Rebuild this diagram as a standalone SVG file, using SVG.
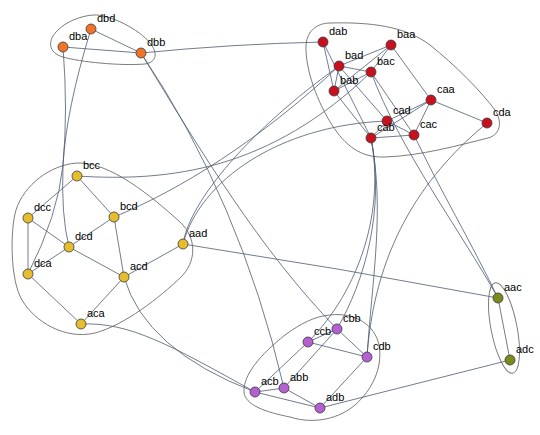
<svg xmlns="http://www.w3.org/2000/svg" width="540" height="435" viewBox="0 0 540 435">
<style>
.e{fill:none;stroke:#4f5d72;stroke-width:0.9;stroke-opacity:0.9}
.h{fill:none;stroke:#7c7c7c;stroke-width:1}
.n{stroke:#3a3a3a;stroke-width:0.8}
.o{fill:#f07328}.r{fill:#c8101e}.y{fill:#e6bd2c}.p{fill:#b45fd2}.g{fill:#7b8a1c}
text{font-family:"Liberation Sans",Arial,sans-serif;font-size:11px;fill:#000}
</style>
<rect width="540" height="435" fill="#fff"/>
<g id="hulls">
<path class="h" d="M93,15 C110,14 140,30 150,43 C158,53 157,62 145,64 C120,66 80,62 63,57 C48,53 47,40 58,30 C66,22 80,16 93,15 Z"/>
<path class="h" d="M330,23 C370,22 405,26 430,45 C455,65 480,90 495,110 C503,122 500,135 488,138 C460,145 420,156 385,157 C360,158 345,145 332,125 C318,103 305,70 306,45 C307,30 318,23 330,23 Z"/>
<path class="h" d="M77,163 C110,162 150,195 180,222 C197,238 197,262 180,278 C160,297 125,325 95,333 C65,340 35,322 22,300 C10,280 10,230 16,210 C24,185 50,165 77,163 Z"/>
<path class="h" d="M330,315 C355,312 375,325 379,345 C383,368 372,390 355,405 C340,418 315,425 290,417 C265,412 245,405 244,392 C243,375 260,355 285,335 C300,324 315,316 330,315 Z"/>
<ellipse class="h" cx="504" cy="328" rx="13" ry="46" transform="rotate(-11 504 328)"/>
</g>
<g id="edges">
<path class="e" d="M63,47L141,53M91,29L141,53"/>
<path class="e" d="M323,42L334,91M323,42L371,138M391,45L431,100M391,45L334,91M391,45L371,72M391,45L339,66M334,91L371,138M334,91L371,72M334,91L339,66M371,72L414,135M371,72L339,66M339,66L387,121M431,100L487,123M431,100L371,138M431,100L414,135M431,100L387,121M371,138L414,135M371,138L387,121M414,135L387,121"/>
<path class="e" d="M77,176L28,218M77,176L114,217M28,218L28,274M28,218L69,247M114,217L124,277M114,217L69,247M69,247L124,277M69,247L28,274M28,274L81,324M124,277L81,324M124,277L183,244"/>
<path class="e" d="M255,392L284,388M255,392L320,408M284,388L320,408M255,392L308,342M284,388L337,329M320,408L367,357M308,342L337,329M308,342L367,357M337,329L367,357"/>
<path class="e" d="M498,298L510,360"/>
<path class="e" d="M141,53Q232,44 323,42"/>
<path class="e" d="M141,53Q240,200 284,388"/>
<path class="e" d="M141,53C200,150 260,250 337,329"/>
<path class="e" d="M91,29Q66,110 63,165Q61,215 69,247"/>
<path class="e" d="M63,47Q68,110 63,165Q58,215 28,274"/>
<path class="e" d="M77,176C170,182 270,170 371,72"/>
<path class="e" d="M114,217C180,190 260,140 339,66"/>
<path class="e" d="M183,244C190,200 250,130 339,66"/>
<path class="e" d="M183,244C200,180 280,125 387,121"/>
<path class="e" d="M183,244Q340,268 498,298"/>
<path class="e" d="M124,277Q145,350 255,392"/>
<path class="e" d="M81,324C130,322 170,345 255,392"/>
<path class="e" d="M371,138C385,210 372,280 367,357"/>
<path class="e" d="M371,138C385,210 365,280 337,329"/>
<path class="e" d="M371,138C385,210 360,290 308,342"/>
<path class="e" d="M487,123C430,170 375,240 367,357"/>
<path class="e" d="M371,72C400,150 460,230 498,298"/>
<path class="e" d="M414,135C440,190 470,240 498,298"/>
<path class="e" d="M320,408L510,360"/>
</g>
<g id="dbd"><circle class="n o" cx="91" cy="29" r="5"/><text x="97" y="22">dbd</text></g>
<g id="dba"><circle class="n o" cx="63" cy="47" r="5"/><text x="69" y="40">dba</text></g>
<g id="dbb"><circle class="n o" cx="141" cy="53" r="5"/><text x="147" y="46">dbb</text></g>
<g id="dab"><circle class="n r" cx="323" cy="42" r="5"/><text x="329" y="35">dab</text></g>
<g id="baa"><circle class="n r" cx="391" cy="45" r="5"/><text x="397" y="38">baa</text></g>
<g id="bad"><circle class="n r" cx="339" cy="66" r="5"/><text x="345" y="59">bad</text></g>
<g id="bac"><circle class="n r" cx="371" cy="72" r="5"/><text x="377" y="65">bac</text></g>
<g id="bab"><circle class="n r" cx="334" cy="91" r="5"/><text x="340" y="84">bab</text></g>
<g id="caa"><circle class="n r" cx="431" cy="100" r="5"/><text x="437" y="93">caa</text></g>
<g id="cda"><circle class="n r" cx="487" cy="123" r="5"/><text x="493" y="116">cda</text></g>
<g id="cad"><circle class="n r" cx="387" cy="121" r="5"/><text x="393" y="114">cad</text></g>
<g id="cab"><circle class="n r" cx="371" cy="138" r="5"/><text x="377" y="131">cab</text></g>
<g id="cac"><circle class="n r" cx="414" cy="135" r="5"/><text x="420" y="128">cac</text></g>
<g id="bcc"><circle class="n y" cx="77" cy="176" r="5"/><text x="83" y="169">bcc</text></g>
<g id="dcc"><circle class="n y" cx="28" cy="218" r="5"/><text x="34" y="211">dcc</text></g>
<g id="bcd"><circle class="n y" cx="114" cy="217" r="5"/><text x="120" y="210">bcd</text></g>
<g id="dcd"><circle class="n y" cx="69" cy="247" r="5"/><text x="75" y="240">dcd</text></g>
<g id="aad"><circle class="n y" cx="183" cy="244" r="5"/><text x="189" y="237">aad</text></g>
<g id="dca"><circle class="n y" cx="28" cy="274" r="5"/><text x="34" y="267">dca</text></g>
<g id="acd"><circle class="n y" cx="124" cy="277" r="5"/><text x="130" y="270">acd</text></g>
<g id="aca"><circle class="n y" cx="81" cy="324" r="5"/><text x="87" y="317">aca</text></g>
<g id="cbb"><circle class="n p" cx="337" cy="329" r="5"/><text x="343" y="322">cbb</text></g>
<g id="ccb"><circle class="n p" cx="308" cy="342" r="5"/><text x="314" y="335">ccb</text></g>
<g id="cdb"><circle class="n p" cx="367" cy="357" r="5"/><text x="373" y="350">cdb</text></g>
<g id="acb"><circle class="n p" cx="255" cy="392" r="5"/><text x="261" y="385">acb</text></g>
<g id="abb"><circle class="n p" cx="284" cy="388" r="5"/><text x="290" y="381">abb</text></g>
<g id="adb"><circle class="n p" cx="320" cy="408" r="5"/><text x="326" y="401">adb</text></g>
<g id="aac"><circle class="n g" cx="498" cy="298" r="5"/><text x="504" y="291">aac</text></g>
<g id="adc"><circle class="n g" cx="510" cy="360" r="5"/><text x="516" y="353">adc</text></g>
</svg>
